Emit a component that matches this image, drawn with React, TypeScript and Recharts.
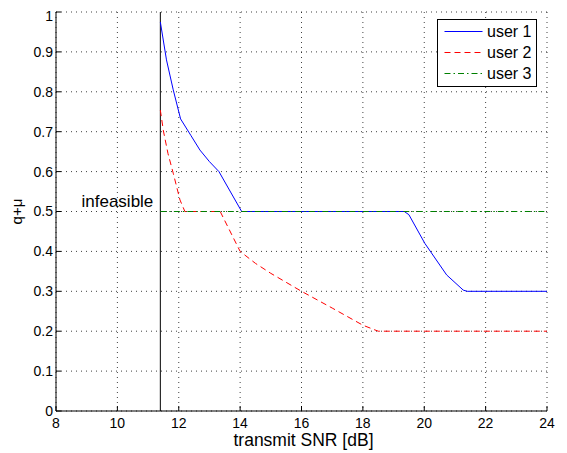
import React from 'react';
import { LineChart, Line, XAxis, YAxis, CartesianGrid, ReferenceLine, Legend } from 'recharts';

// Axis ticks
const snrTicks = [8, 10, 12, 14, 16, 18, 20, 22, 24];
const qmuTicks = [0, 0.1, 0.2, 0.3, 0.4, 0.5, 0.6, 0.7, 0.8, 0.9, 1];

// Lowest transmit SNR at which the problem is feasible [dB]
const feasibilityLimit = 11.4;

// user 1
const user1Snr = [11.4, 11.6, 11.82, 12.06, 12.4, 12.69, 13.0, 13.31, 14.05, 19.35, 19.5, 20.02, 20.73, 21.27, 21.4, 24];
const user1Qmu = [0.975, 0.88, 0.805, 0.732, 0.69, 0.654, 0.625, 0.6, 0.5, 0.5, 0.492, 0.42, 0.341, 0.303, 0.3, 0.3];

// user 2
const user2Snr = [11.4, 11.5, 11.65, 11.82, 12.04, 12.2, 13.35, 14.0, 14.5, 15.0, 16.0, 17.0, 18.0, 18.5, 24];
const user2Qmu = [0.754, 0.702, 0.645, 0.596, 0.529, 0.5, 0.5, 0.4, 0.37, 0.345, 0.3, 0.258, 0.215, 0.2, 0.2];

// user 3
const user3Snr = [11.4, 24];
const user3Qmu = [0.5, 0.5];

const toPoints = (snr: number[], qmu: number[]) => snr.map((x, i) => ({ snr: x, qmu: qmu[i] }));

const series = [
  { name: 'user 1', data: toPoints(user1Snr, user1Qmu), color: '#0000ff', dash: undefined as string | undefined },
  { name: 'user 2', data: toPoints(user2Snr, user2Qmu), color: '#ff0000', dash: '6 4' },
  { name: 'user 3', data: toPoints(user3Snr, user3Qmu), color: '#008000', dash: '6 3 1.5 3' },
];

const FONT = 'Liberation Sans, Arial, Helvetica, sans-serif';

const LegendBox = () => (
  <div
    style={{
      border: '1px solid #000',
      background: '#fff',
      width: 98,
      padding: '1px 0 2px',
      fontFamily: FONT,
      fontSize: 16,
      lineHeight: '21px',
      color: '#000',
      boxSizing: 'content-box',
    }}
  >
    {series.map((s) => (
      <div key={s.name} style={{ display: 'flex', alignItems: 'center', height: 21 }}>
        <svg width={49} height={21} style={{ display: 'block', flex: 'none' }}>
          <line x1={6.5} x2={44.5} y1={10.5} y2={10.5} stroke={s.color} strokeWidth={1} strokeDasharray={s.dash} />
        </svg>
        <span style={{ whiteSpace: 'nowrap' }}>{s.name}</span>
      </div>
    ))}
  </div>
);

export default function App() {
  return (
    <LineChart width={559} height={445} margin={{ top: 4, right: 20, bottom: 0, left: 8 }} style={{ fontFamily: FONT }}>
      <CartesianGrid stroke="#000" strokeOpacity={0.75} strokeDasharray="1 4" />
      <XAxis
        dataKey="snr"
        type="number"
        domain={[8, 24]}
        ticks={snrTicks}
        allowDataOverflow
        height={42}
        stroke="#000"
        tickSize={-5}
        tickMargin={12}
        tick={{ fill: '#000', fontSize: 14 }}
        label={{ value: 'transmit SNR [dB]', position: 'insideBottom', offset: 7, dx: 2, fill: '#000', fontSize: 17.5 }}
      />
      <XAxis
        xAxisId="top"
        orientation="top"
        type="number"
        domain={[8, 24]}
        ticks={snrTicks}
        allowDataOverflow
        height={0}
        stroke="#000"
        tickSize={-5}
        tick={false}
      />
      <YAxis
        type="number"
        domain={[0, 1]}
        ticks={qmuTicks}
        allowDataOverflow
        width={40}
        stroke="#000"
        tickSize={-5}
        tickMargin={8}
        tick={{ fill: '#000', fontSize: 14 }}
        label={{ value: 'q+μ', angle: -90, position: 'center', dx: -19, fill: '#000', fontSize: 15 }}
      />
      <YAxis
        yAxisId="right"
        orientation="right"
        type="number"
        domain={[0, 1]}
        ticks={qmuTicks}
        allowDataOverflow
        width={0}
        stroke="#000"
        tickSize={-5}
        tick={false}
      />
      <ReferenceLine
        x={feasibilityLimit}
        stroke="#000"
        strokeWidth={1}
        label={{ value: 'infeasible', position: 'left', offset: 7, dy: -11, fill: '#000', fontSize: 17 }}
      />
      {series.map((s) => (
        <Line
          key={s.name}
          data={s.data}
          dataKey="qmu"
          name={s.name}
          type="linear"
          stroke={s.color}
          strokeWidth={1}
          strokeDasharray={s.dash}
          dot={false}
          activeDot={false}
          isAnimationActive={false}
        />
      ))}
      <Legend
        layout="vertical"
        align="center"
        verticalAlign="middle"
        content={<LegendBox />}
        wrapperStyle={{ position: 'absolute', left: 429, top: 11, width: 100, height: 'auto' }}
      />
    </LineChart>
  );
}
